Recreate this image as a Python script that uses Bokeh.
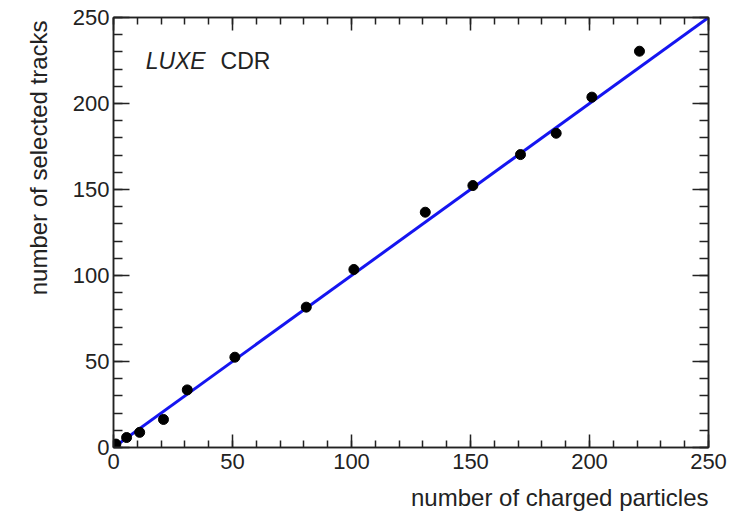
from bokeh.plotting import figure
from bokeh.models import LinearAxis, FixedTicker, Label, Range1d, Title
from bokeh.embed import file_html
from bokeh.resources import INLINE

# data
n_charged = [1, 5.5, 11, 21, 31, 51, 81, 101, 131, 151, 171, 186, 201, 221]
n_selected = [2, 5.8, 8.8, 16.3, 33.5, 52.5, 81.6, 103.5, 136.8, 152.3, 170.3, 182.7, 203.7, 230.4]
fit_x = [0, 250]
fit_y = [0, 250]

major_ticks = [0, 50, 100, 150, 200, 250]
minor_ticks = list(range(0, 251, 10))

FONT = "Liberation Sans"
INK = "#222222"

p = figure(width=740, height=520, output_backend="svg", toolbar_location=None,
           x_range=Range1d(0, 250), y_range=Range1d(0, 250),
           min_border_left=113, min_border_right=32, min_border_top=17, min_border_bottom=73,
           x_axis_location=None, y_axis_location=None)
p.grid.visible = False
p.outline_line_color = INK
p.outline_line_width = 1.5
p.background_fill_color = "white"
p.border_fill_color = "white"


def make_axis(major_in, minor_in, labels=True):
    ax = LinearAxis(ticker=FixedTicker(ticks=major_ticks, minor_ticks=minor_ticks))
    ax.axis_line_color = INK
    ax.axis_line_width = 1.5
    ax.major_tick_line_color = INK
    ax.minor_tick_line_color = INK
    ax.major_tick_line_width = 1.5
    ax.minor_tick_line_width = 1.5
    ax.major_tick_in = major_in
    ax.major_tick_out = 0
    ax.minor_tick_in = minor_in
    ax.minor_tick_out = 0
    ax.major_label_text_font = FONT
    ax.major_label_text_font_size = "22px"
    ax.major_label_text_color = INK
    if not labels:
        ax.major_label_overrides = {t: "" for t in major_ticks}
        ax.major_label_standoff = 0
    return ax


bottom = make_axis(13, 7)
bottom.major_label_standoff = 6
left = make_axis(16, 9)
left.major_label_standoff = 4
top = make_axis(13, 7, labels=False)
right = make_axis(16, 9, labels=False)
p.add_layout(bottom, "below")
p.add_layout(left, "left")
p.add_layout(top, "above")
p.add_layout(right, "right")

p.add_layout(Title(text="number of charged particles", align="right", standoff=20,
                   text_font=FONT, text_font_size="24px", text_font_style="normal",
                   text_color=INK), "below")
p.add_layout(Title(text="number of selected tracks", align="right", standoff=36, offset=3,
                   text_font=FONT, text_font_size="24px", text_font_style="normal",
                   text_color=INK), "left")

p.line(fit_x, fit_y, line_color="#1515f0", line_width=3)
p.scatter(n_charged, n_selected, size=10, color="black")

p.add_layout(Label(x=13.5, y=224.5, text="LUXE", text_font_style="italic",
                   text_baseline="middle", text_font=FONT, text_font_size="23px", text_color=INK))
p.add_layout(Label(x=45, y=224.5, text="CDR",
                   text_baseline="middle", text_font=FONT, text_font_size="23px", text_color=INK))

open("out.html", "w").write(file_html(p, INLINE))
